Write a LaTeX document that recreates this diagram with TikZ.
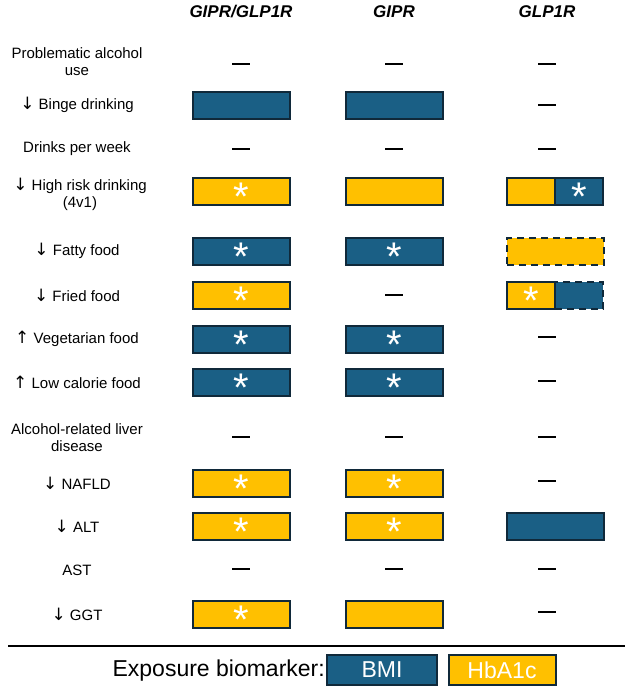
\documentclass[tikz,border=0pt]{standalone}
\usepackage{fontspec}
\setmainfont{Liberation Sans}
\newfontfamily\arrowfont{DejaVu Sans}
\newcommand{\dn}{{\arrowfont\fontsize{17}{16}\selectfont ↓}}
\newcommand{\up}{{\arrowfont\fontsize{17}{16}\selectfont ↑}}
\begin{document}
\definecolor{bmi}{HTML}{1A5F85}
\definecolor{hba}{HTML}{FFC000}
\definecolor{edge}{HTML}{10293A}
\begin{tikzpicture}[x=1pt,y=-1pt,
 lab/.style={font=\fontsize{15}{17}\selectfont,align=center},
 hdr/.style={font=\fontsize{17}{18}\selectfont\bfseries\itshape},
 box/.style={draw=edge,line width=2pt,minimum width=97pt,minimum height=27pt,inner sep=0pt},
 half/.style={draw=edge,line width=2pt,minimum width=48pt,minimum height=27pt,inner sep=0pt},
 B/.style={fill=bmi}, H/.style={fill=hba},
 st/.style={text=white,font=\fontsize{40}{40}\selectfont,yshift=-6pt},
 dsh/.style={fill=black,minimum width=18pt,minimum height=2.6pt,inner sep=0pt}]
\useasboundingbox (0,0) rectangle (633,688);
\node[hdr] (h1) at (241,12) {GIPR/GLP1R};
\node[hdr] (h2) at (394,12) {GIPR};
\node[hdr] (h3) at (547,12) {GLP1R};
% labels
\node[lab] (l1) at (77,62) {Problematic alcohol\\use};
\node[lab] (l2) at (77,105) {\dn{} Binge drinking};
\node[lab] (l3) at (77,149) {Drinks per week};
\node[lab] (l4) at (80,194) {\dn{} High risk drinking\\(4v1)};
\node[lab] (l5) at (77,251) {\dn{} Fatty food};
\node[lab] (l6) at (77,295) {\dn{} Fried food};
\node[lab] (l7) at (77,339) {\up{} Vegetarian food};
\node[lab] (l8) at (77,382) {\up{} Low calorie food};
\node[lab] (l9) at (77,438) {Alcohol-related liver\\disease};
\node[lab] (l10) at (77,483) {\dn{} NAFLD};
\node[lab] (l11) at (77,526) {\dn{} ALT};
\node[lab] (l12) at (77,570) {AST};
\node[lab] (l13) at (77,614) {\dn{} GGT};
% row 1
\node[dsh] (a1) at (241,64) {}; \node[dsh] (b1) at (394,64) {}; \node[dsh] (c1) at (547,64) {};
% row 2
\node[box,B] (a2) at (241,105) {}; \node[box,B] (b2) at (394,105) {}; \node[dsh] (c2) at (547,105) {};
% row 3
\node[dsh] (a3) at (241,149) {}; \node[dsh] (b3) at (394,149) {}; \node[dsh] (c3) at (547,149) {};
% row 4
\node[box,H] (a4) at (241,191) {}; \node[st] at (a4) {*};
\node[box,H] (b4) at (394,191) {};
\node[half,H] (c4a) at (531,191) {}; \node[half,B] (c4b) at (579,191) {}; \node[st] at (c4b) {*};
% row 5
\node[box,B] (a5) at (241,251) {}; \node[st] at (a5) {*};
\node[box,B] (b5) at (394,251) {}; \node[st] at (b5) {*};
\node[box,H,dash pattern=on 7pt off 5pt] (c5) at (555,251) {};
% row 6
\node[box,H] (a6) at (241,295) {}; \node[st] at (a6) {*};
\node[dsh] (b6) at (394,295) {};
\node[half,B,dash pattern=on 7pt off 5pt] (c6b) at (579,295) {};
\node[half,H] (c6a) at (531,295) {}; \node[st] at (c6a) {*};
% row 7
\node[box,B] (a7) at (241,339) {}; \node[st] at (a7) {*};
\node[box,B] (b7) at (394,339) {}; \node[st] at (b7) {*};
\node[dsh] (c7) at (547,337) {};
% row 8
\node[box,B] (a8) at (241,382) {}; \node[st] at (a8) {*};
\node[box,B] (b8) at (394,382) {}; \node[st] at (b8) {*};
\node[dsh] (c8) at (547,381) {};
% row 9
\node[dsh] (a9) at (241,437) {}; \node[dsh] (b9) at (394,437) {}; \node[dsh] (c9) at (547,437) {};
% row 10
\node[box,H] (a10) at (241,483) {}; \node[st] at (a10) {*};
\node[box,H] (b10) at (394,483) {}; \node[st] at (b10) {*};
\node[dsh] (c10) at (547,481) {};
% row 11
\node[box,H] (a11) at (241,526) {}; \node[st] at (a11) {*};
\node[box,H] (b11) at (394,526) {}; \node[st] at (b11) {*};
\node[box,B] (c11) at (555,526) {};
% row 12
\node[dsh] (a12) at (241,569) {}; \node[dsh] (b12) at (394,569) {}; \node[dsh] (c12) at (547,569) {};
% row 13
\node[box,H] (a13) at (241,614) {}; \node[st] at (a13) {*};
\node[box,H] (b13) at (394,614) {};
\node[dsh] (c13) at (547,612) {};
% legend
\coordinate (r1) at (8,646); \coordinate (r2) at (625,646);
\draw[line width=2pt] (r1) -- (r2);
\node[font=\fontsize{23}{24}\selectfont,anchor=east,inner sep=0pt] (lg) at (325,671) {Exposure biomarker:};
\node[draw=edge,line width=2pt,fill=bmi,minimum width=110pt,minimum height=30pt,text=white,font=\fontsize{23}{24}\selectfont] (lb) at (382,670) {BMI};
\node[draw=edge,line width=2pt,fill=hba,minimum width=107pt,minimum height=30pt,text=white,font=\fontsize{23}{24}\selectfont] (lh) at (502,670) {HbA1c};
\end{tikzpicture}
\end{document}
